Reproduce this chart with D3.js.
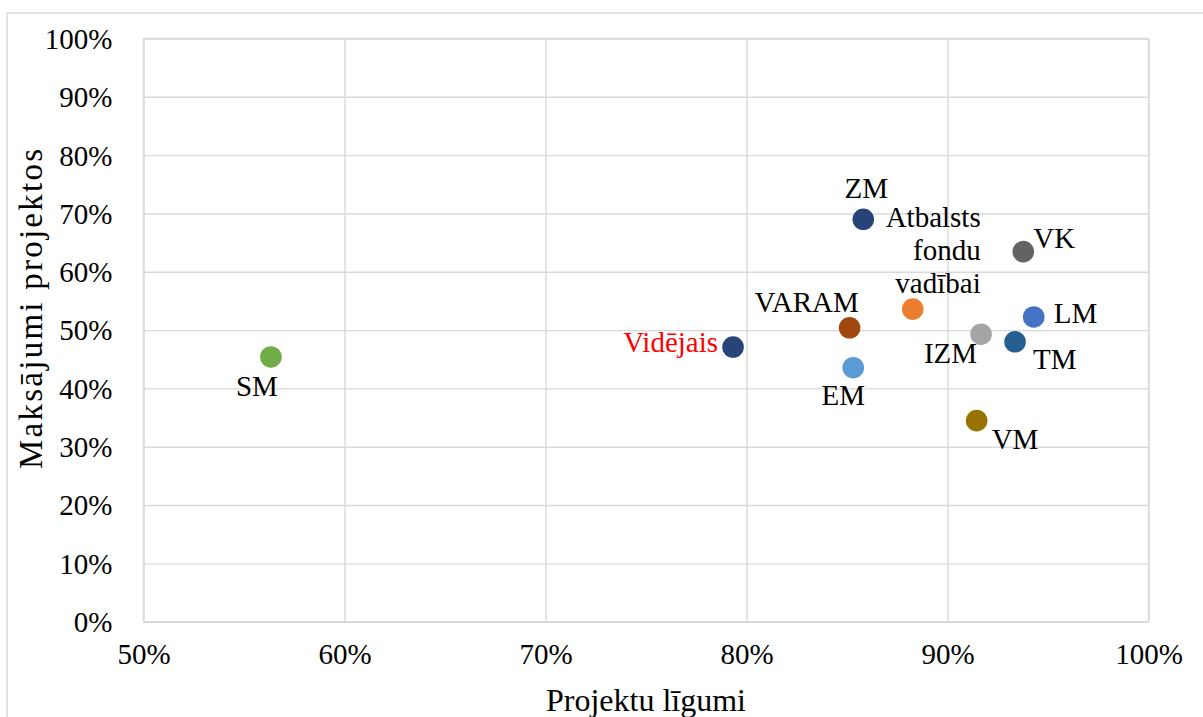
<!DOCTYPE html>
<html><head><meta charset="utf-8">
<script src="https://cdn.jsdelivr.net/npm/d3@7"></script>
<style>html,body{margin:0;padding:0;background:#fff;overflow:hidden}</style>
</head><body>
<svg id="chart" width="1203" height="717"></svg>
<script>
const names = ["SM","Vidējais","ZM","VARAM","EM","Atbalsts fondu vadībai","IZM","VK","LM","TM","VM"];
const contracts = [0.5634,0.7933,0.8581,0.8513,0.8531,0.8827,0.9167,0.9377,0.9429,0.9336,0.9145];
const payments  = [0.454,0.471,0.690,0.504,0.4355,0.536,0.493,0.6345,0.5225,0.480,0.3447];
const colors = ["#70AD47","#264478","#264478","#9E480E","#5B9BD5","#ED7D31","#A5A5A5","#636363","#4472C4","#255E91","#997300"];
const xTicks = [0.5,0.6,0.7,0.8,0.9,1.0];
const yTicks = [0,0.1,0.2,0.3,0.4,0.5,0.6,0.7,0.8,0.9,1.0];
const xTitle = "Projektu līgumi";
const yTitle = "Maksājumi projektos";

(function(){
const svg = d3.select("#chart");
const font = "'Liberation Serif'";
const grid = "#d9d9d9";
const pL = 143.5, pR = 1148.5, pT = 38.5, pB = 621.7;
const x = d3.scaleLinear().domain([0.5,1]).range([pL,pR]);
const y = d3.scaleLinear().domain([0,1]).range([pB,pT]);
const fmt = d3.format(".0%");

svg.append("rect").attr("x",7).attr("y",13).attr("width",1210).attr("height",720)
  .attr("fill","none").attr("stroke",grid).attr("stroke-width",1.5);

const gx = svg.append("g").attr("transform",`translate(0,${pB})`)
  .call(d3.axisBottom(x).tickValues(xTicks).tickFormat(fmt).tickSize(-(pB-pT)).tickPadding(22));
const gy = svg.append("g").attr("transform",`translate(${pL},0)`)
  .call(d3.axisLeft(y).tickValues(yTicks).tickFormat(fmt).tickSize(-(pR-pL)).tickPadding(31));
[gx,gy].forEach(g=>{
  g.attr("font-family",null).attr("font-size",null);
  g.select(".domain").remove();
  g.selectAll(".tick line").attr("stroke",grid).attr("stroke-width",1.4);
  g.selectAll(".tick text").style("font-family",font).style("font-size","29px").attr("fill","#000");
});
gx.selectAll(".tick text").attr("dy","0.71em");
gy.selectAll(".tick text").attr("dy","0.34em");
svg.append("rect").attr("x",pL).attr("y",pT).attr("width",pR-pL).attr("height",pB-pT)
  .attr("fill","none").attr("stroke",grid).attr("stroke-width",1.4);

svg.append("text").attr("x",(pL+pR)/2).attr("y",711).attr("text-anchor","middle")
  .style("font-family",font).style("font-size","32px").attr("fill","#000").text(xTitle);
svg.append("text").attr("transform","translate(42,309) rotate(-90)").attr("text-anchor","middle")
  .style("font-family",font).style("font-size","33px").attr("fill","#000")
  .attr("textLength",320).attr("lengthAdjust","spacing").text(yTitle);

const data = names.map((n,i)=>({n,cx:contracts[i],py:payments[i],c:colors[i]}));
svg.append("g").selectAll("circle").data(data).join("circle")
  .attr("cx",d=>x(d.cx)).attr("cy",d=>y(d.py)).attr("r",10.8).attr("fill",d=>d.c);

const place = {
  "SM":[-14,39,"middle"],
  "Vidējais":[-15,5,"end"],
  "ZM":[3,-21,"middle"],
  "VARAM":[-43,-16,"middle"],
  "EM":[-10,37,"middle"],
  "IZM":[-4,29,"end"],
  "VK":[10,-4,"start"],
  "LM":[20,6,"start"],
  "TM":[18,27,"start"],
  "VM":[15,28,"start"]
};
const lbl = svg.append("g");
data.forEach(d=>{
  const px = x(d.cx), py = y(d.py);
  if (d.n.startsWith("Atbalsts")) {
    const lines = ["Atbalsts","fondu","vadībai"];
    const t = lbl.append("text").attr("text-anchor","end").attr("fill","#000")
      .style("font-family",font).style("font-size","29px");
    lines.forEach((ln,k)=>t.append("tspan").attr("x",px+68).attr("y",py-82+k*33).text(ln));
  } else {
    const p = place[d.n];
    lbl.append("text").attr("x",px+p[0]).attr("y",py+p[1]).attr("text-anchor",p[2])
      .style("font-family",font).style("font-size","29px")
      .attr("fill",d.n==="Vidējais"?"#FF0000":"#000").text(d.n);
  }
});
})();
</script>
</body></html>
